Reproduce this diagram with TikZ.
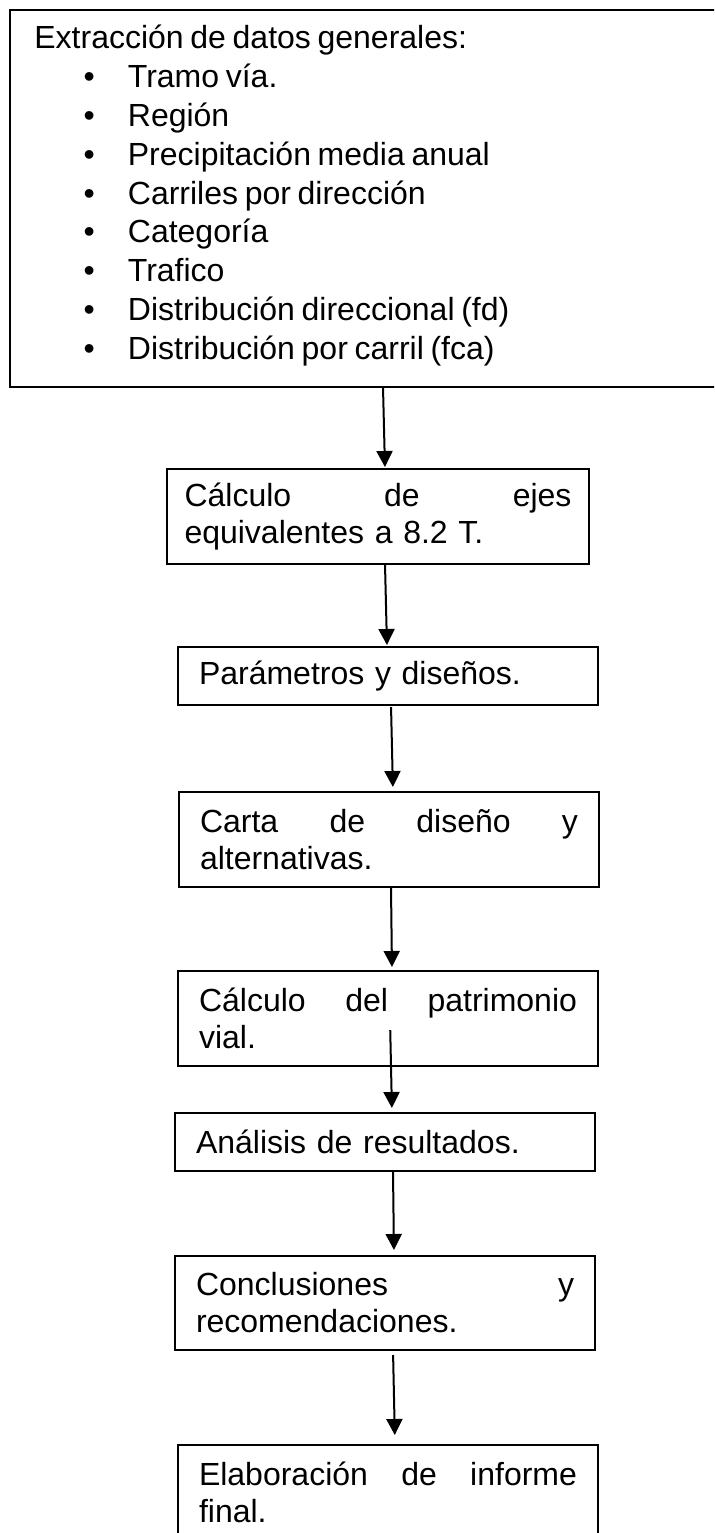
\documentclass[tikz,border=0pt]{standalone}
\usepackage{fontspec}
\setmainfont{Liberation Sans}
\usepackage{enumitem}
\usetikzlibrary{positioning}
\usetikzlibrary{arrows.meta}

\begin{document}
\begin{tikzpicture}[x=0.5pt, y=-0.5pt,
		caja/.style = {draw, rectangle, line width=1pt, outer sep=0pt, anchor=north west, text width=189pt, inner xsep=10.5pt, inner ysep=0pt, align=left, font=\fontsize{16}{18.5}\selectfont},
		flecha/.style = {black, line width=1pt, -{Triangle[length=8pt,width=8pt]}}]

		\clip (0,0) rectangle (714,1533);

		\node[draw, rectangle, line width=1pt, outer sep=0pt, anchor=north west, minimum width=400pt, minimum height=188.5pt] at (10,10) (datos) {};

		\node[anchor=north west, inner sep=0pt, text width=330pt] at (34,24.5) (lista)
		{\fontsize{16}{19.45}\selectfont
			Extracción de datos generales:
			\begin{itemize}[nosep, leftmargin=46.75pt, labelsep=16.5pt]
				\item Tramo vía.
				\item Región
				\item Precipitación media anual
				\item Carriles por dirección
				\item Categoría
				\item Trafico
				\item Distribución direccional (fd)
				\item Distribución por carril (fca)
			\end{itemize}};

		\node[caja, text width=193.5pt, inner xsep=8.75pt, minimum height=47.5pt] at (167,469) (ejes)
		{Cálculo\hfill de\hfill ejes\\equivalentes a 8.2 T.};

		\node[caja, minimum height=29pt] at (178,647) (param)
		{Parámetros y diseños.};

		\node[caja, minimum height=47.5pt] at (179,792) (carta)
		{Carta\hfill de\hfill diseño\hfill y\\alternativas.};

		\node[caja, minimum height=47.5pt] at (178,971) (patrim)
		{Cálculo\hfill del\hfill patrimonio\\vial.};

		\node[caja, minimum height=29pt] at (175,1113) (analisis)
		{Análisis de resultados.};

		\node[caja, minimum height=47pt] at (175,1256) (concl)
		{Conclusiones\hfill y\\recomendaciones.};

		\node[caja, minimum height=47.5pt] at (178,1445) (informe)
		{Elaboración\hfill de\hfill informe\\final.};

		\draw[flecha, shorten >=1pt] (datos.south -| 383,0) -- (ejes.north -| 385,0);
		\draw[flecha, shorten >=1pt] (ejes.south -| 385,0) -- (param.north -| 387,0);
		\draw[flecha, shorten <=1pt, shorten >=2.5pt] (param.south -| 391,0) -- (carta.north -| 393,0);
		\draw[flecha, shorten >=2pt] (carta.south -| 391,0) -- (patrim.north -| 392,0);
		\draw[flecha, shorten <=-18pt, shorten >=2.5pt] (patrim.south -| 391,0) -- (analisis.north -| 392,0);
		\draw[flecha, shorten >=3pt] (analisis.south -| 393,0) -- (concl.north -| 394,0);
		\draw[flecha, shorten <=2.5pt, shorten >=5pt] (concl.south -| 393,0) -- (informe.north -| 395,0);
	\end{tikzpicture}
\end{document}
